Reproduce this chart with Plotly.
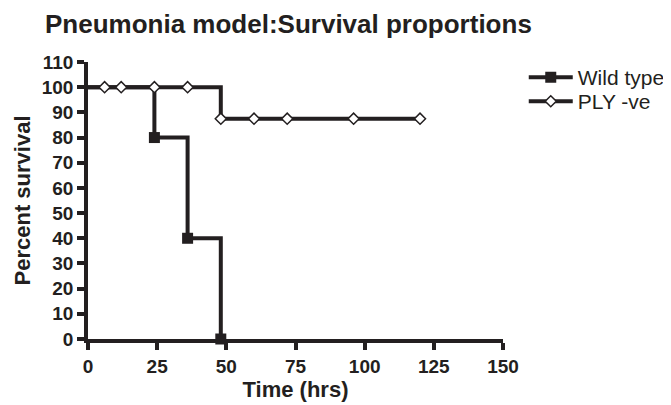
import plotly.graph_objects as go

# Data
wt_time = [0, 24, 36, 48]
wt_surv = [100, 80, 40, 0]
ply_time = [0, 6, 12, 24, 36, 48, 60, 72, 96, 120]
ply_surv = [100, 100, 100, 100, 100, 87.5, 87.5, 87.5, 87.5, 87.5]
x_ticks = [0, 25, 50, 75, 100, 125, 150]
y_ticks = list(range(0, 111, 10))

INK = "#231f20"
FONT = "Liberation Sans, Arial, Helvetica"

W, H = 663, 397

fig = go.Figure()

fig.add_trace(go.Scatter(x=ply_time, y=ply_surv, mode="lines", line=dict(shape="hv", color=INK, width=4),
                         showlegend=False, hoverinfo="skip", legendgroup="ply"))
fig.add_trace(go.Scatter(x=wt_time, y=wt_surv, mode="lines", line=dict(shape="hv", color=INK, width=4),
                         showlegend=False, hoverinfo="skip", legendgroup="wt"))
fig.add_trace(go.Scatter(x=ply_time[1:], y=ply_surv[1:], mode="markers",
                         marker=dict(symbol="diamond", size=8.5, color="white", line=dict(color=INK, width=1.5)),
                         showlegend=False, legendgroup="ply", cliponaxis=False))
fig.add_trace(go.Scatter(x=wt_time[1:], y=wt_surv[1:], mode="markers",
                         marker=dict(symbol="square", size=11, color=INK, line=dict(color=INK, width=0)),
                         showlegend=False, legendgroup="wt", cliponaxis=False))
fig.add_trace(go.Scatter(x=[None], y=[None], mode="lines+markers", name="Wild type", legendgroup="wt",
                         legend="legend",
                         line=dict(color=INK, width=4),
                         marker=dict(symbol="square", size=11, color=INK)))
fig.add_trace(go.Scatter(x=[None], y=[None], mode="lines+markers", name="PLY -ve", legendgroup="ply",
                         legend="legend2",
                         line=dict(color=INK, width=4),
                         marker=dict(symbol="diamond", size=8.5, color="white", line=dict(color=INK, width=1.5))))

axis_common = dict(showgrid=False, zeroline=False, showline=True, linecolor=INK, linewidth=3.5,
                   ticks="outside", ticklen=7, tickwidth=3.5, tickcolor=INK, automargin=False,
                   tickfont=dict(family=FONT, size=19, color=INK, weight="bold"))

legend_common = dict(x=1.05, xanchor="left", yanchor="top", font=dict(family=FONT, size=21, color=INK),
                     tracegroupgap=0, itemwidth=44, bgcolor="rgba(0,0,0,0)", borderwidth=0)

fig.update_layout(
    width=W, height=H,
    margin=dict(l=80, r=168, t=54, b=66, autoexpand=False),
    paper_bgcolor="white", plot_bgcolor="white",
    title=dict(text="<b>Pneumonia model:Survival proportions</b>", xref="container", x=37 / W, xanchor="left",
               yref="container", y=1 - 16 / H, yanchor="middle",
               font=dict(family=FONT, size=26, color=INK)),
    xaxis=dict(range=[0, 150], tickvals=x_ticks, **axis_common,
               title=dict(text="<b>Time (hrs)</b>", font=dict(family=FONT, size=22, color=INK), standoff=4)),
    yaxis=dict(range=[0, 110], tickvals=y_ticks, **axis_common,
               title=dict(text="<b>Percent survival</b>", font=dict(family=FONT, size=22, color=INK), standoff=6)),
    legend=dict(y=1.018, **legend_common),
    legend2=dict(y=0.931, **legend_common),
    showlegend=True,
)

fig.write_html("out.html")
